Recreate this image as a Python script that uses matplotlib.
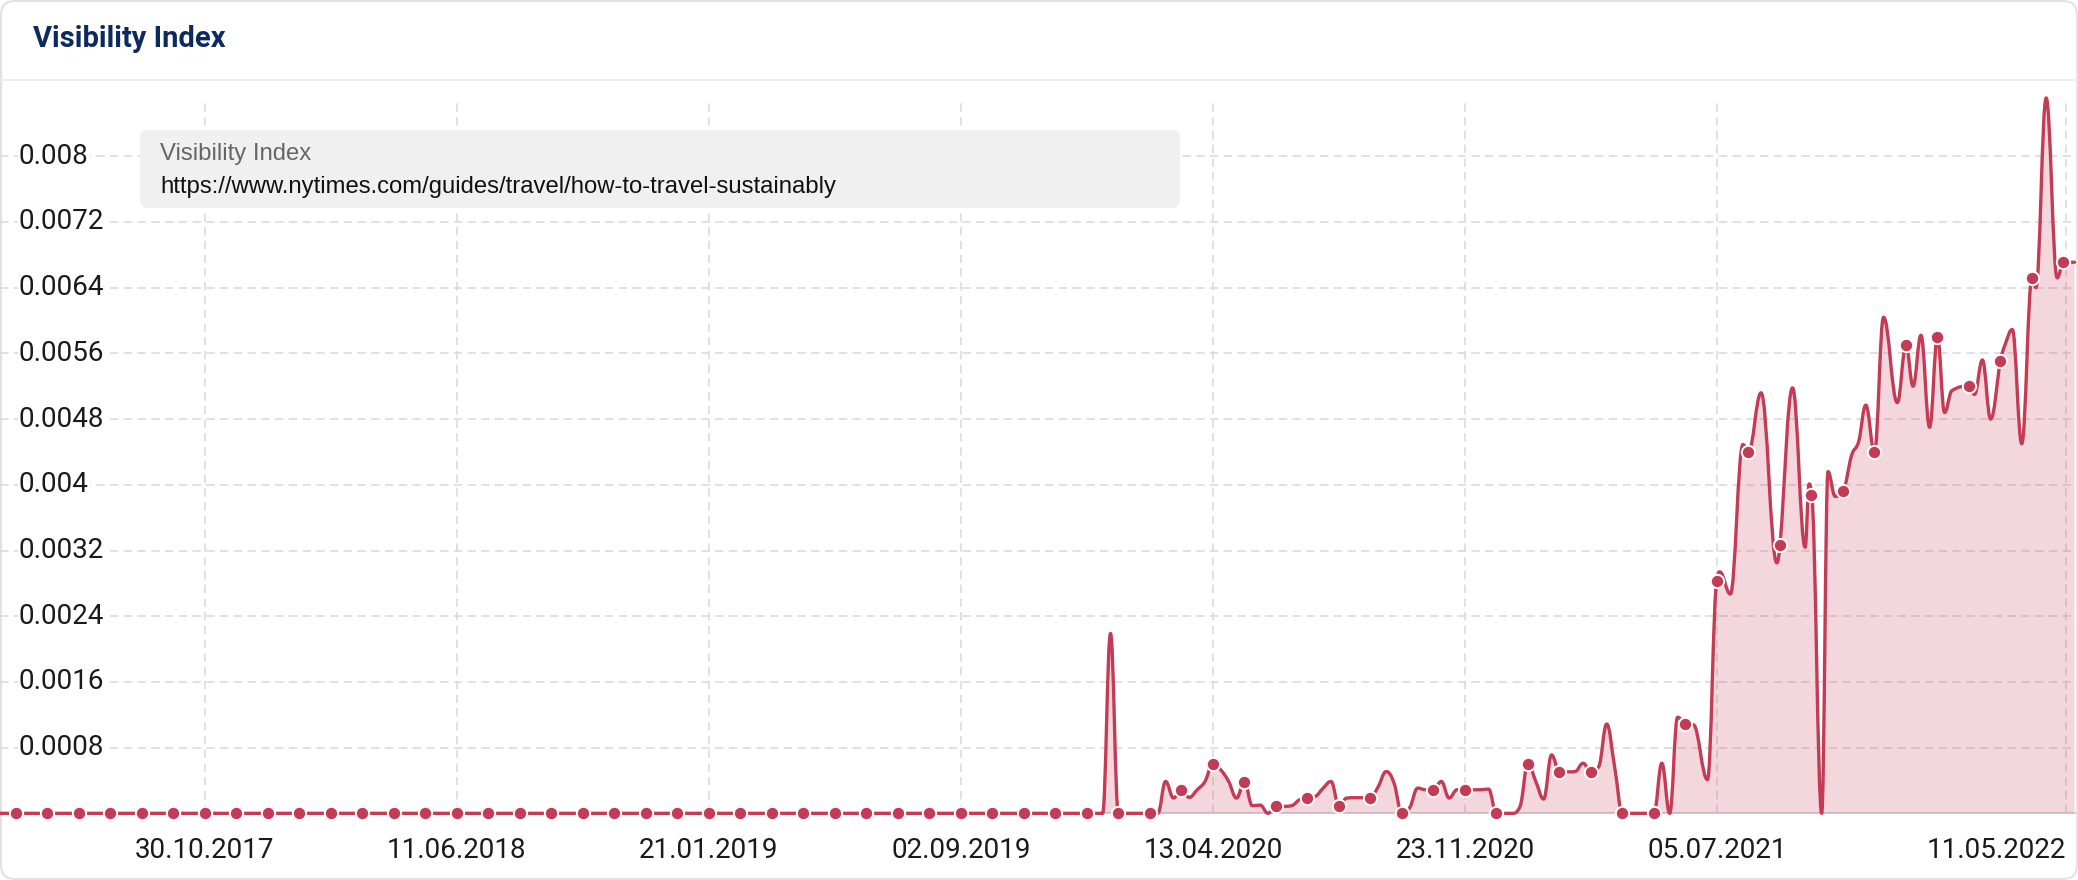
import numpy as np
import pandas as pd
import matplotlib
matplotlib.use('Agg')
import matplotlib.pyplot as plt
import matplotlib.dates as mdates
from matplotlib.path import Path
from matplotlib.patches import PathPatch, FancyBboxPatch
from matplotlib.lines import Line2D
from matplotlib.transforms import IdentityTransform, blended_transform_factory

plt.rcParams['font.family'] = ['Roboto', 'DejaVu Sans']

# data: week offsets from 01.05.2017 and visibility values
start = pd.Timestamp('2017-05-01')
weeks = [0, 2, 6, 10, 14, 18, 22, 26, 30, 34, 38, 42, 46, 50, 54, 58, 62, 66,
         70, 74, 78, 82, 86, 90, 94, 98, 102, 106, 110, 114, 118, 122, 126, 130, 134, 138,
         140, 141, 142, 146, 147, 148, 149, 150, 151, 152, 153, 154, 155, 156, 157, 158,
         159, 160, 161, 162, 163, 164, 165, 166, 167, 168, 169, 170, 171, 172, 173, 174,
         175, 176, 177, 178, 179, 180, 181, 182, 183, 184, 185, 186, 187, 188, 189, 190,
         192, 193, 194, 195, 196, 197, 198, 199, 200, 201, 202, 203, 204, 205, 206, 210,
         211, 212, 213, 214, 215, 216.8, 218, 218.35, 219.7, 221.3, 222, 223.6, 225.6, 226,
         227.6, 229.2, 229.7, 230, 231.3, 232.1, 233, 234, 235.1, 236, 236.9, 238, 239.15,
         240.9, 242, 242.9, 243.9, 245, 246, 246.9, 247.75, 250, 250.7, 251.7, 252.75, 254,
         254.6, 255.5, 256.7, 258, 258.5, 259.8, 261.2, 262, 263.4]
values = [0, 0, 0, 0, 0, 0, 0, 0, 0, 0, 0, 0, 0, 0, 0, 0, 0, 0,
          0, 0, 0, 0, 0, 0, 0, 0, 0, 0, 0, 0, 0, 0, 0, 0, 0, 0,
          0, 0.00219, 0, 0, 0, 0.000388, 0.000186, 0.000287, 0.000194, 0.000287, 0.000388, 0.000606,
          0.000529, 0.000388, 0.000186, 0.000384,
          0.000093, 0.0001, 0, 0.000093, 0.000085, 0.000093, 0.000166, 0.00019, 0.000206, 0.000307,
          0.000388, 0.000093, 0.000186, 0.00019, 0.00019, 0.00019,
          0.000327, 0.000509, 0.000368, 0, 0.00007, 0.000307, 0.000287, 0.000287, 0.000388, 0.000186,
          0.000287, 0.000287, 0.000287, 0.000287, 0.000295, 0,
          0, 0.000085, 0.000606, 0.000388, 0.000174, 0.000711, 0.000505, 0.000505, 0.000509, 0.00061,
          0.000505, 0.00057, 0.001087, 0.00057, 0, 0,
          0.00061, 0, 0.00117, 0.00109, 0.00108, 0.00041, 0.00283, 0.00294, 0.00267, 0.00449, 0.0044,
          0.00512, 0.00305, 0.00327,
          0.00518, 0.00324, 0.00401, 0.00388, 0, 0.00416, 0.00386, 0.00392, 0.00436, 0.00453, 0.00497,
          0.0044, 0.00604,
          0.005, 0.0057, 0.0052, 0.00582, 0.0047, 0.0058, 0.00488, 0.00514, 0.0052, 0.0051, 0.00552,
          0.0048, 0.00551,
          0.00571, 0.00589, 0.0045, 0.00652, 0.0064, 0.00871, 0.00652, 0.00671, 0.00671]

tick_dates = ['2017-10-30', '2018-06-11', '2019-01-21', '2019-09-02',
              '2020-04-13', '2020-11-23', '2021-07-05', '2022-05-11']
ytick_values = [0.0008, 0.0016, 0.0024, 0.0032, 0.004, 0.0048, 0.0056, 0.0064, 0.0072, 0.008]
ytick_labels = ['0.0008', '0.0016', '0.0024', '0.0032', '0.004', '0.0048', '0.0056',
                '0.0064', '0.0072', '0.008']
title = 'Visibility Index'
series_name = 'Visibility Index'
url = 'https://www.nytimes.com/guides/travel/how-to-travel-sustainably'

RED = '#c43b55'
W, H = 2078, 880


def fx(x):
    return x / W


def fy(y):
    return 1 - y / H


def spline(x, y, smoothing=1.5):
    # highcharts-like spline: control points never overshoot the neighbours
    n = len(x)
    lc = [(x[i], y[i]) for i in range(n)]
    rc = [(x[i], y[i]) for i in range(n)]
    d = smoothing + 1
    for i in range(1, n - 1):
        lx, ly, px, py, nx, ny = x[i-1], y[i-1], x[i], y[i], x[i+1], y[i+1]
        lcx = (smoothing * px + lx) / d
        lcy = (smoothing * py + ly) / d
        rcx = (smoothing * px + nx) / d
        rcy = (smoothing * py + ny) / d
        corr = (rcy - lcy) * (rcx - px) / (rcx - lcx) + py - rcy
        lcy += corr
        rcy += corr
        if lcy > ly and lcy > py:
            lcy = max(ly, py); rcy = 2 * py - lcy
        elif lcy < ly and lcy < py:
            lcy = min(ly, py); rcy = 2 * py - lcy
        if rcy > ny and rcy > py:
            rcy = max(ny, py); lcy = 2 * py - rcy
        elif rcy < ny and rcy < py:
            rcy = min(ny, py); lcy = 2 * py - rcy
        lc[i] = (lcx, lcy)
        rc[i] = (rcx, rcy)
    verts = [(x[0], y[0])]
    codes = [Path.MOVETO]
    for i in range(1, n):
        verts += [rc[i-1], lc[i], (x[i], y[i])]
        codes += [Path.CURVE4] * 3
    return verts, codes


fig = plt.figure(figsize=(W / 100, H / 100), dpi=100)

card = FancyBboxPatch((1, 1), W - 2, H - 2, boxstyle='round,pad=0,rounding_size=14',
                      transform=IdentityTransform(), fc='white', ec='#e2e2e2', lw=1.5, zorder=-5)
fig.add_artist(card)
fig.add_artist(Line2D([0, 1], [fy(80), fy(80)], transform=fig.transFigure, color='#ececec', lw=1.5))
fig.text(fx(33), fy(39), title, fontsize=21, fontweight='bold', color='#0d2a5c', va='center', ha='left')

ax = fig.add_axes([0, fy(830), 2077 / W, (830 - 95) / H])
ax.patch.set_visible(False)
for s in ax.spines.values():
    s.set_visible(False)

dates = start + pd.to_timedelta(np.array(weeks) * 7, unit='D')
vals = np.array(values)
mask = np.isclose(np.mod(np.array(weeks) - 2, 4), 0)

ax.plot(dates[mask], vals[mask], 'o', ms=9.6, mfc=RED, mec='white', mew=1.4, zorder=6, clip_on=False)

x = mdates.date2num(dates.to_pydatetime())
verts, codes = spline(list(x), list(vals))
ax.add_patch(PathPatch(Path(verts, codes), fill=False, ec=RED, lw=2.4, zorder=5,
                       capstyle='round', joinstyle='round', clip_on=False))
fverts = verts + [(x[-1], 0), (x[0], 0), (x[0], 0)]
fcodes = codes + [Path.LINETO, Path.LINETO, Path.CLOSEPOLY]
ax.add_patch(PathPatch(Path(fverts, fcodes), fc=RED, alpha=0.2, ec='none', zorder=3))

ax.set_xlim(start, pd.Timestamp('2022-05-21'))
ax.set_ylim(-0.000203, 0.008746)

for v in ytick_values:
    ax.axhline(v, color='#d9d9d9', lw=1.1, ls=(0, (5.5, 3.5)), zorder=1)
ax.axhline(0, color='#d4d4d4', lw=1.5, zorder=1)
td = pd.to_datetime(tick_dates)
ax.vlines(td, 0, 0.0087, color='#d9d9d9', lw=1.1, linestyles=[(0, (5.5, 3.5))], zorder=1)

ax.set_xticks(td)
ax.set_xticklabels([d.strftime('%d.%m.%Y') for d in td])
ax.tick_params(axis='x', length=0, pad=5, labelsize=20, labelcolor='#1a1a1a')
ax.get_xticklabels()[-1].set_ha('right')
ax.set_yticks([])

trans = blended_transform_factory(ax.transAxes, ax.transData)
for v, lab in zip(ytick_values, ytick_labels):
    ax.text(19 / 2077, v, lab, transform=trans, fontsize=20, color='#1a1a1a', va='center', ha='left',
            zorder=4, bbox=dict(fc='white', ec='none', pad=1))

legend_box = FancyBboxPatch((140, H - 208), 1040, 78, boxstyle='round,pad=0,rounding_size=8',
                            transform=IdentityTransform(), fc='#f0f0f0', ec='none', zorder=5)
fig.add_artist(legend_box)
fig.text(fx(160), fy(154), series_name, fontsize=17.2, family=['Liberation Sans', 'DejaVu Sans'],
         color='#666666', va='center', ha='left', zorder=6)
fig.text(fx(160), fy(187), url, fontsize=17.2, family=['Liberation Sans', 'DejaVu Sans'],
         color='#111111', va='center', ha='left', zorder=6)

fig.savefig('out.png', dpi=100)
